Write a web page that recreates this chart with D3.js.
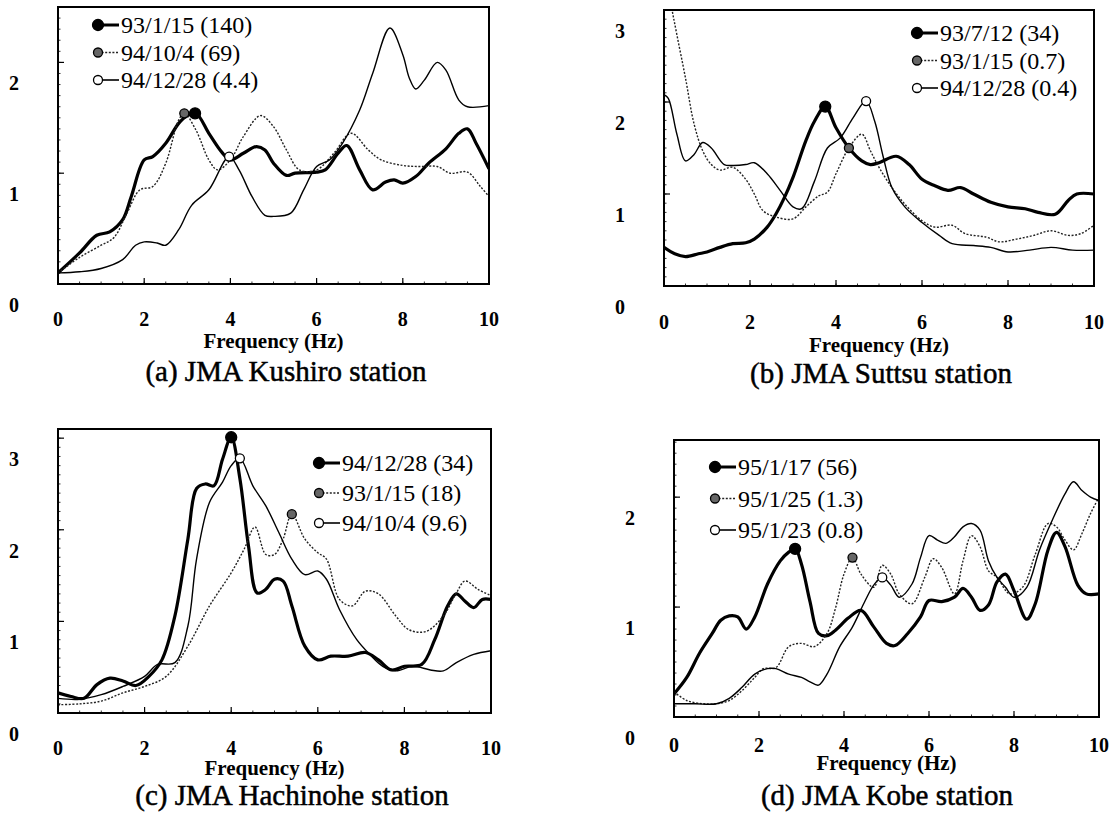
<!DOCTYPE html>
<html>
<head>
<meta charset="utf-8">
<script src="https://cdn.jsdelivr.net/npm/d3@7"></script>
<style>
  body { margin: 0; background: #fff; }
  svg { display: block; }
</style>
</head>
<body>
<svg id="chart" width="1114" height="819" style="font-family: 'Liberation Serif', 'DejaVu Serif', 'Times New Roman', serif;"></svg>
<script>
// ---- data (frequency Hz, amplification) ----
// (a) JMA Kushiro
const kushiroLabels = ['93/1/15 (140)', '94/10/4 (69)', '94/12/28 (4.4)'];
const kushiro1 = [[0,0.1],[0.5,0.28],[0.9,0.44],[1.2,0.47],[1.5,0.58],[1.7,0.79],[2.0,1.12],[2.2,1.15],[2.5,1.27],[2.8,1.45],[3.0,1.52],[3.2,1.54],[3.5,1.36],[3.8,1.19],[4.0,1.12],[4.3,1.18],[4.6,1.24],[4.8,1.21],[5.0,1.09],[5.3,0.98],[5.5,1.0],[6.0,1.01],[6.2,1.03],[6.5,1.18],[6.7,1.25],[7.0,1.03],[7.3,0.85],[7.6,0.92],[7.8,0.94],[8.0,0.91],[8.3,0.97],[8.6,1.09],[9.0,1.22],[9.3,1.36],[9.5,1.40],[9.7,1.27],[10,1.04]];
const kushiro2 = [[0,0.1],[0.5,0.24],[1.0,0.35],[1.3,0.42],[1.6,0.64],[1.9,0.85],[2.2,0.88],[2.5,1.09],[2.8,1.48],[2.93,1.54],[3.2,1.39],[3.5,1.12],[3.7,1.03],[4.0,1.12],[4.3,1.33],[4.7,1.52],[5.0,1.42],[5.3,1.21],[5.6,1.03],[6.0,1.03],[6.4,1.18],[6.8,1.36],[7.2,1.21],[7.5,1.12],[8.0,1.07],[8.4,1.06],[8.8,1.06],[9.1,1.0],[9.5,1.01],[9.8,0.88],[10,0.79]];
const kushiro3 = [[0,0.1],[0.5,0.11],[1.0,0.14],[1.5,0.22],[1.8,0.35],[2.0,0.38],[2.3,0.37],[2.5,0.35],[2.8,0.49],[3.1,0.71],[3.5,0.85],[3.97,1.15],[4.2,1.03],[4.5,0.79],[4.8,0.62],[5.0,0.61],[5.4,0.64],[5.7,0.85],[6.0,1.06],[6.3,1.12],[6.6,1.27],[7.0,1.57],[7.3,1.9],[7.7,2.31],[8.0,2.07],[8.15,1.86],[8.3,1.76],[8.5,1.84],[8.8,2.0],[9.0,1.93],[9.3,1.66],[9.5,1.6],[10,1.61]];
const kushiroPeaks = [[3.18,1.54],[2.93,1.54],[3.97,1.15]];

// (b) JMA Suttsu
const suttsuLabels = ['93/7/12 (34)', '93/1/15 (0.7)', '94/12/28 (0.4)'];
const suttsu1 = [[0,0.42],[0.25,0.35],[0.5,0.32],[0.8,0.35],[1.0,0.37],[1.3,0.42],[1.6,0.46],[1.9,0.47],[2.1,0.51],[2.4,0.64],[2.6,0.78],[2.8,0.96],[3.0,1.18],[3.3,1.58],[3.5,1.79],[3.75,1.95],[4.0,1.72],[4.3,1.50],[4.6,1.36],[4.8,1.32],[5.0,1.34],[5.4,1.41],[5.7,1.32],[6.0,1.16],[6.3,1.09],[6.6,1.04],[6.9,1.07],[7.2,1.0],[7.6,0.91],[8.0,0.86],[8.4,0.84],[8.7,0.8],[9.1,0.78],[9.4,0.93],[9.6,1.0],[10,1.0]];
const suttsu2 = [[0,3.6],[0.15,3.1],[0.3,2.73],[0.5,2.26],[0.7,1.76],[0.9,1.47],[1.1,1.32],[1.3,1.26],[1.6,1.29],[1.9,1.16],[2.1,1.0],[2.3,0.82],[2.6,0.75],[3.0,0.73],[3.3,0.86],[3.6,0.98],[3.8,1.02],[4.0,1.22],[4.3,1.5],[4.6,1.65],[4.8,1.47],[5.0,1.29],[5.3,1.07],[5.6,0.89],[6.0,0.71],[6.3,0.64],[6.7,0.66],[7.0,0.57],[7.5,0.53],[7.8,0.48],[8.2,0.51],[8.6,0.55],[9.0,0.6],[9.4,0.55],[9.7,0.57],[10,0.66]];
const suttsu3 = [[0,2.08],[0.1,2.04],[0.3,1.65],[0.5,1.36],[0.7,1.43],[0.9,1.56],[1.1,1.5],[1.4,1.32],[1.6,1.31],[1.9,1.32],[2.1,1.34],[2.4,1.22],[2.7,1.04],[3.0,0.86],[3.2,0.84],[3.5,1.14],[3.8,1.5],[4.1,1.61],[4.4,1.83],[4.7,2.01],[4.9,1.79],[5.1,1.4],[5.3,1.07],[5.6,0.86],[6.0,0.69],[6.4,0.55],[6.7,0.46],[7.2,0.44],[7.6,0.42],[8.0,0.37],[8.5,0.39],[9.0,0.42],[9.5,0.39],[10,0.39]];
const suttsuPeaks = [[3.75,1.95],[4.3,1.5],[4.7,2.01]];

// (c) JMA Hachinohe
const hachinoheLabels = ['94/12/28 (34)', '93/1/15 (18)', '94/10/4 (9.6)'];
const hachinohe1 = [[0,0.22],[0.3,0.18],[0.6,0.16],[0.9,0.31],[1.2,0.38],[1.5,0.35],[1.8,0.30],[2.1,0.40],[2.4,0.58],[2.7,1.06],[3.0,1.90],[3.2,2.45],[3.4,2.5],[3.6,2.48],[3.8,2.77],[4.0,3.01],[4.2,2.56],[4.4,1.82],[4.6,1.31],[4.8,1.35],[5.0,1.46],[5.2,1.44],[5.4,1.17],[5.7,0.73],[6.0,0.58],[6.3,0.62],[6.7,0.62],[7.1,0.66],[7.4,0.58],[7.7,0.47],[8.0,0.51],[8.4,0.53],[8.7,0.80],[9.0,1.17],[9.2,1.30],[9.4,1.22],[9.6,1.15],[9.8,1.24],[10,1.24]];
const hachinohe2 = [[0,0.09],[0.5,0.1],[1.0,0.13],[1.5,0.22],[2.0,0.29],[2.5,0.40],[3.0,0.73],[3.5,1.17],[4.0,1.53],[4.3,1.79],[4.55,2.03],[4.8,1.73],[5.0,1.73],[5.2,1.9],[5.4,2.17],[5.7,1.9],[6.0,1.75],[6.2,1.68],[6.5,1.24],[6.8,1.17],[7.1,1.33],[7.4,1.3],[7.8,1.06],[8.1,0.91],[8.5,0.89],[8.9,1.06],[9.2,1.31],[9.4,1.44],[9.7,1.35],[10,1.28]];
const hachinohe3 = [[0,0.16],[0.5,0.15],[1.0,0.2],[1.5,0.29],[2.0,0.40],[2.3,0.53],[2.7,0.55],[3.0,0.95],[3.2,1.68],[3.5,2.3],[3.8,2.52],[4.0,2.7],[4.2,2.78],[4.5,2.48],[4.8,2.26],[5.1,1.97],[5.4,1.68],[5.7,1.51],[6.0,1.55],[6.2,1.46],[6.5,1.13],[6.9,0.8],[7.2,0.64],[7.5,0.51],[7.8,0.46],[8.2,0.51],[8.6,0.47],[8.9,0.46],[9.2,0.55],[9.6,0.64],[10,0.68]];
const hachinohePeaks = [[4.0,3.01],[5.4,2.17],[4.2,2.78]];

// (d) JMA Kobe
const kobeLabels = ['95/1/17 (56)', '95/1/25 (1.3)', '95/1/23 (0.8)'];
const kobe1 = [[0,0.21],[0.3,0.36],[0.6,0.58],[0.9,0.76],[1.1,0.88],[1.3,0.92],[1.5,0.91],[1.7,0.80],[1.9,0.91],[2.2,1.21],[2.5,1.42],[2.7,1.5],[2.85,1.53],[3.0,1.39],[3.2,1.05],[3.4,0.76],[3.6,0.74],[3.8,0.79],[4.1,0.9],[4.4,0.97],[4.7,0.82],[5.0,0.67],[5.2,0.65],[5.5,0.76],[5.8,0.91],[6.0,1.06],[6.3,1.05],[6.6,1.09],[6.8,1.17],[7.0,1.09],[7.2,0.97],[7.4,1.02],[7.6,1.23],[7.8,1.30],[8.0,1.15],[8.3,0.89],[8.5,1.03],[8.8,1.52],[9.0,1.68],[9.2,1.55],[9.5,1.2],[9.7,1.12],[10,1.12]];
const kobe2 = [[0,0.23],[0.3,0.15],[0.7,0.12],[1.0,0.12],[1.3,0.15],[1.6,0.24],[1.9,0.36],[2.1,0.44],[2.4,0.45],[2.7,0.64],[3.0,0.67],[3.3,0.64],[3.6,0.76],[3.8,0.99],[4.0,1.3],[4.2,1.45],[4.4,1.3],[4.7,1.18],[4.9,1.38],[5.1,1.3],[5.3,1.12],[5.6,1.03],[5.9,1.27],[6.1,1.44],[6.3,1.36],[6.6,1.12],[6.8,1.42],[7.0,1.65],[7.2,1.55],[7.4,1.33],[7.6,1.27],[7.9,1.12],[8.2,1.18],[8.5,1.48],[8.8,1.76],[9.0,1.73],[9.2,1.61],[9.4,1.52],[9.6,1.67],[9.8,1.85],[10,2.0]];
const kobe3 = [[0,0.12],[0.5,0.12],[1.0,0.12],[1.3,0.17],[1.6,0.27],[1.9,0.39],[2.2,0.44],[2.4,0.44],[2.7,0.39],[3.0,0.36],[3.2,0.32],[3.4,0.29],[3.6,0.39],[3.9,0.64],[4.2,0.82],[4.5,1.06],[4.7,1.2],[4.9,1.27],[5.1,1.2],[5.3,1.09],[5.6,1.21],[5.8,1.45],[6.0,1.65],[6.2,1.61],[6.4,1.58],[6.6,1.64],[6.8,1.73],[7.0,1.76],[7.2,1.7],[7.4,1.42],[7.6,1.27],[7.8,1.18],[8.0,1.09],[8.3,1.18],[8.6,1.52],[8.9,1.79],[9.2,2.03],[9.4,2.14],[9.6,2.06],[9.8,2.0],[10,1.97]];
const kobePeaks = [[2.85,1.53],[4.2,1.45],[4.9,1.27]];

const xTicks = [0, 2, 4, 6, 8, 10];

// ---- panel layout ----
const panels = [
  { id: 'a', title: '(a) JMA Kushiro station', left: 58, right: 489, top: 7, bottom: 284, yMax: 2.5,
    yTicks: [0, 1, 2], series: [kushiro1, kushiro2, kushiro3], peaks: kushiroPeaks, labels: kushiroLabels,
    legend: { x: 98, y: 25, dy: 27.5 }, xLabelDy: 35, freqY: 341, titleX: 286, titleY: 371 },
  { id: 'b', title: '(b) JMA Suttsu station', left: 664, right: 1094, top: 10, bottom: 286, yMax: 3.0,
    yTicks: [0, 1, 2, 3], series: [suttsu1, suttsu2, suttsu3], peaks: suttsuPeaks, labels: suttsuLabels,
    legend: { x: 917, y: 33, dy: 27.5 }, xLabelDy: 36, freqY: 345, titleX: 881, titleY: 373 },
  { id: 'c', title: '(c) JMA Hachinohe station', left: 58, right: 491, top: 429, bottom: 713, yMax: 3.1,
    yTicks: [0, 1, 2, 3], series: [hachinohe1, hachinohe2, hachinohe3], peaks: hachinohePeaks, labels: hachinoheLabels,
    legend: { x: 319, y: 463, dy: 30 }, xLabelDy: 35, freqY: 768, titleX: 292, titleY: 795 },
  { id: 'd', title: '(d) JMA Kobe station', left: 674, right: 1099, top: 440, bottom: 717, yMax: 2.52,
    yTicks: [0, 1, 2], series: [kobe1, kobe2, kobe3], peaks: kobePeaks, labels: kobeLabels,
    legend: { x: 715, y: 467, dy: 31.5 }, xLabelDy: 28, freqY: 763, titleX: 887, titleY: 795 }
];

// line styles: thick solid, dotted, thin solid
const styles = [
  { width: 3.2, dash: null, color: '#000' },
  { width: 1.4, dash: '2,1.6', color: '#222' },
  { width: 1.4, dash: null, color: '#000' }
];
const markers = [
  { r: 5.5, fill: '#000', stroke: '#000' },
  { r: 4.5, fill: '#666', stroke: '#000' },
  { r: 4.5, fill: '#fff', stroke: '#000' }
];

const svg = d3.select('#chart');

panels.forEach(p => {
  const x = d3.scaleLinear().domain([0, 10]).range([p.left, p.right]);
  const y = d3.scaleLinear().domain([0, p.yMax]).range([p.bottom, p.top]);
  const g = svg.append('g').attr('class', 'panel-' + p.id);

  // clip for lines leaving the box
  svg.append('clipPath').attr('id', 'clip-' + p.id)
    .append('rect')
    .attr('x', p.left).attr('y', p.top)
    .attr('width', p.right - p.left).attr('height', p.bottom - p.top);

  // inward minor / major ticks
  const yMinor = d3.range(0, p.yMax + 0.001, 0.1);
  g.selectAll('.ymin').data(yMinor).enter().append('line')
    .attr('x1', p.left).attr('x2', p.left + 2.5)
    .attr('y1', d => y(d)).attr('y2', d => y(d))
    .attr('stroke', '#000').attr('stroke-width', 0.8);
  g.selectAll('.ymaj').data(p.yTicks.filter(t => t > 0 && t < p.yMax)).enter().append('line')
    .attr('x1', p.left).attr('x2', p.left + 6)
    .attr('y1', d => y(d)).attr('y2', d => y(d))
    .attr('stroke', '#000').attr('stroke-width', 1.2);
  g.selectAll('.xmaj').data(xTicks.filter(t => t > 0 && t < 10)).enter().append('line')
    .attr('x1', d => x(d)).attr('x2', d => x(d))
    .attr('y1', p.bottom).attr('y2', p.bottom - 6)
    .attr('stroke', '#000').attr('stroke-width', 1.2);
  g.selectAll('.xmin').data(d3.range(0.5, 10, 0.5)).enter().append('line')
    .attr('x1', d => x(d)).attr('x2', d => x(d))
    .attr('y1', p.bottom).attr('y2', p.bottom - 2.5)
    .attr('stroke', '#000').attr('stroke-width', 0.8);

  // curves
  const line = d3.line()
    .x(d => x(d[0]))
    .y(d => y(d[1]))
    .curve(d3.curveCatmullRom.alpha(0.5));

  const lines = g.append('g').attr('clip-path', `url(#clip-${p.id})`);
  p.series.forEach((s, i) => {
    lines.append('path')
      .datum(s)
      .attr('d', line)
      .attr('fill', 'none')
      .attr('stroke', styles[i].color)
      .attr('stroke-width', styles[i].width)
      .attr('stroke-dasharray', styles[i].dash)
      .attr('stroke-linejoin', 'round');
  });

  // peak markers
  p.peaks.forEach((pk, i) => {
    g.append('circle')
      .attr('cx', x(pk[0])).attr('cy', y(pk[1]))
      .attr('r', markers[i].r)
      .attr('fill', markers[i].fill)
      .attr('stroke', markers[i].stroke)
      .attr('stroke-width', 1.3);
  });

  // frame
  g.append('rect')
    .attr('x', p.left).attr('y', p.top)
    .attr('width', p.right - p.left).attr('height', p.bottom - p.top)
    .attr('fill', 'none').attr('stroke', '#000').attr('stroke-width', 2);

  // tick labels (the original prints the y labels below their tick marks)
  g.selectAll('.ylab').data(p.yTicks).enter().append('text')
    .attr('x', p.left - 44)
    .attr('y', d => y(d) + 21)
    .attr('dy', '0.35em')
    .attr('text-anchor', 'middle')
    .style('font-size', '20px')
    .style('font-weight', 'bold')
    .text(d => d);
  g.selectAll('.xlab').data(xTicks).enter().append('text')
    .attr('x', d => x(d))
    .attr('y', p.bottom + p.xLabelDy)
    .attr('dy', '0.35em')
    .attr('text-anchor', 'middle')
    .style('font-size', '20px')
    .style('font-weight', 'bold')
    .text(d => d);

  g.append('text')
    .attr('x', (p.left + p.right) / 2)
    .attr('y', p.freqY)
    .attr('dy', '0.35em')
    .attr('text-anchor', 'middle')
    .style('font-size', '21px')
    .style('font-weight', 'bold')
    .text('Frequency (Hz)');

  g.append('text')
    .attr('x', p.titleX)
    .attr('y', p.titleY)
    .attr('dy', '0.35em')
    .attr('text-anchor', 'middle')
    .style('font-size', '29px')
    .style('stroke', '#000')
    .style('stroke-width', 0.5)
    .text(p.title);

  // legend
  p.labels.forEach((lab, i) => {
    const ly = p.legend.y + i * p.legend.dy;
    g.append('line')
      .attr('x1', p.legend.x).attr('x2', p.legend.x + 21)
      .attr('y1', ly).attr('y2', ly)
      .attr('stroke', styles[i].color)
      .attr('stroke-width', i === 0 ? 3 : 1.6)
      .attr('stroke-dasharray', i === 1 ? '2,1.6' : null);
    g.append('circle')
      .attr('cx', p.legend.x).attr('cy', ly)
      .attr('r', markers[i].r)
      .attr('fill', markers[i].fill)
      .attr('stroke', markers[i].stroke)
      .attr('stroke-width', 1.3);
    g.append('text')
      .attr('x', p.legend.x + 23)
      .attr('y', ly)
      .attr('dy', '0.35em')
      .style('font-size', '24px')
      .text(lab);
  });
});
</script>
</body>
</html>
